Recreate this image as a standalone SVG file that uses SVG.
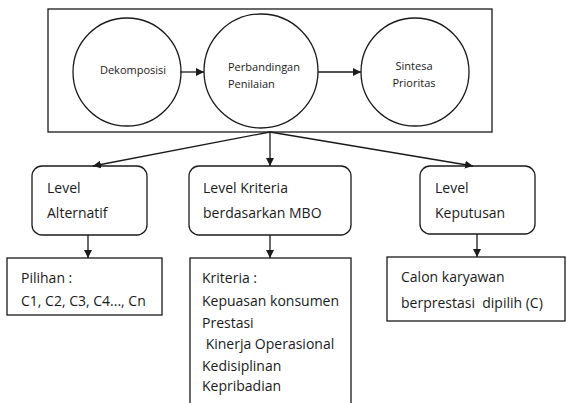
<svg xmlns="http://www.w3.org/2000/svg" width="567" height="403" viewBox="0 0 567 403">
<defs>
<marker id="ah" markerWidth="8" markerHeight="8" refX="8" refY="4" orient="auto" markerUnits="userSpaceOnUse">
<path d="M0,0 L8,4 L0,8 Z" fill="#1a1a1a"/>
</marker>
</defs>
<style>
.sh{fill:#fff;stroke:#1a1a1a;stroke-width:1.3}
.ln{fill:none;stroke:#1a1a1a;stroke-width:1.3;marker-end:url(#ah)}
.t{font-family:"Open Sans","Liberation Sans",sans-serif;fill:#1a1a1a}
.s{font-size:11px}
.m{font-size:14px}
</style>
<rect width="567" height="403" fill="#fff"/>
<g id="frame"><rect class="sh" x="48" y="9" width="444" height="123"/></g>
<g id="dekomposisi"><circle class="sh" cx="127" cy="72" r="54"/><text class="t s" x="133" y="74" text-anchor="middle">Dekomposisi</text></g>
<g id="perbandingan"><circle class="sh" cx="261" cy="71" r="57"/><text class="t s" x="228" y="71">Perbandingan</text><text class="t s" x="228" y="88">Penilaian</text></g>
<g id="sintesa"><circle class="sh" cx="415" cy="72" r="54"/><text class="t s" x="414" y="70" text-anchor="middle">Sintesa</text><text class="t s" x="414" y="87" text-anchor="middle">Prioritas</text></g>
<g id="alternatif"><rect class="sh" x="32" y="166" width="115" height="69" rx="10"/><text class="t m" x="47" y="193">Level</text><text class="t m" x="47" y="218">Alternatif</text></g>
<g id="kriteria"><rect class="sh" x="189" y="166" width="162" height="69" rx="10"/><text class="t m" x="203" y="193">Level Kriteria</text><text class="t m" x="203" y="218">berdasarkan MBO</text></g>
<g id="keputusan"><rect class="sh" x="420" y="166" width="115" height="68" rx="10"/><text class="t m" x="435" y="193">Level</text><text class="t m" x="435" y="218">Keputusan</text></g>
<g id="pilihan"><rect class="sh" x="7" y="258" width="155" height="57"/><text class="t m" x="21" y="283">Pilihan :</text><text class="t m" x="21" y="306">C1, C2, C3, C4..., Cn</text></g>
<g id="daftar-kriteria"><rect class="sh" x="190" y="258" width="161" height="160"/>
<text class="t m" x="202" y="283">Kriteria :</text>
<text class="t m" x="202" y="306">Kepuasan konsumen</text>
<text class="t m" x="202" y="328">Prestasi</text>
<text class="t m" x="202" y="349" xml:space="preserve"> Kinerja Operasional</text>
<text class="t m" x="202" y="371">Kedisiplinan</text>
<text class="t m" x="202" y="391">Kepribadian</text></g>
<g id="calon"><rect class="sh" x="387" y="257" width="178" height="64"/><text class="t m" x="401" y="282">Calon karyawan</text><text class="t m" x="401" y="308" xml:space="preserve">berprestasi  dipilih (C)</text></g>
<g id="connectors">
<line class="ln" x1="180" y1="72" x2="204" y2="72"/>
<line class="ln" x1="318" y1="72" x2="361" y2="72"/>
<line class="ln" x1="270" y1="132" x2="93" y2="166"/>
<line class="ln" x1="270" y1="132" x2="270" y2="166"/>
<line class="ln" x1="270" y1="132" x2="473" y2="166"/>
<line class="ln" x1="88" y1="235" x2="88" y2="258"/>
<line class="ln" x1="270" y1="235" x2="270" y2="258"/>
<line class="ln" x1="477" y1="234" x2="477" y2="257"/>
</g>
</svg>
